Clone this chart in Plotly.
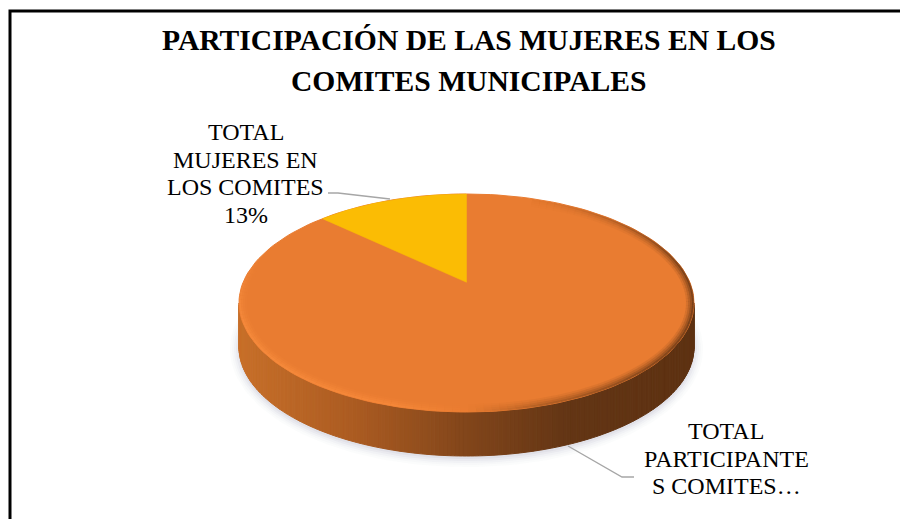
import numpy as np
import plotly.graph_objects as go

categories = ["TOTAL PARTICIPANTES COMITES", "TOTAL MUJERES EN LOS COMITES"]
values = [87, 13]
title_lines = ["PARTICIPACIÓN DE LAS MUJERES EN LOS", "COMITES MUNICIPALES"]
label_women = ["TOTAL", "MUJERES EN", "LOS COMITES", "13%"]
label_total = ["TOTAL", "PARTICIPANTE", "S COMITES…"]

CX, CY, RX, RY, DEPTH, E = 466.5, 303.0, 227.5, 109.0, 44.0, 0.19

fig = go.Figure()


def ell(phi, cy=CY, rx=RX, ry=RY, cx=CX):
    return cx + rx * np.sin(phi), cy - ry * np.cos(phi)


def add(x, y, fill=None, line=None, width=0, opacity=1.0):
    fig.add_trace(go.Scatter(
        x=list(x), y=list(y), mode="lines", hoverinfo="skip", showlegend=False,
        fill="toself" if fill else None, fillcolor=fill, opacity=opacity,
        line=dict(color=line or fill or "rgba(0,0,0,0)", width=width),
    ))


def mix(stops, t):
    xs = [s[0] for s in stops]
    c = [np.interp(t, xs, [s[1][i] for s in stops]) for i in range(3)]
    return "rgb(%d,%d,%d)" % tuple(c)


# soft shadow beneath the disc
full = np.linspace(0, 2 * np.pi, 181)
for grow, alpha in [(9, .03), (7, .04), (5, .05), (3, .07), (1, .09)]:
    x, y = ell(full, CY + DEPTH + 2, RX + grow, RY + grow)
    add(x, y, fill="#8f93a8", opacity=alpha)

# side wall, drawn as vertical strips with a horizontal shading
side = [(0, (200, 112, 42)), (.25, (172, 92, 34)), (.5, (130, 70, 27)), (.72, (100, 54, 21)), (1, (94, 50, 18))]
edges = np.linspace(np.pi / 2, 3 * np.pi / 2, 181)
for a, b in zip(edges[:-1], edges[1:]):
    ph = np.array([a, b])
    xt, yt = ell(ph)
    xb, yb = ell(ph, CY + DEPTH)
    t = (xt.mean() - (CX - RX)) / (2 * RX)
    add(np.r_[xt, xb[::-1], xt[0]], np.r_[yt, yb[::-1], yt[0]], fill=mix(side, t), width=1)

# top face
shares = np.array(values) / sum(values)
x, y = ell(full)
add(x, y, fill="#E97C31", line="#E97C31", width=1)

# rim: bright on the left, soft and dark on the right, fading out at both ends
rim = [(0, (248, 140, 62)), (.35, (247, 137, 58)), (.5, (236, 126, 50)), (.66, (176, 94, 36)), (1, (112, 60, 24))]
deg = np.linspace(15, 300, 143)
for width, inset, alpha in [(7, 4.5, .15), (5, 3.5, .25), (3, 2.5, .4), (2, 1, .8)]:
    for a, b in zip(deg[:-1], deg[1:]):
        xs, ys = ell(np.radians([a, b]), rx=RX - inset, ry=RY - inset)
        t = (xs.mean() - (CX - RX)) / (2 * RX)
        fade = np.clip((a - 15) / 55, 0, 1) * np.clip((300 - b) / 40, 0, 1)
        add(xs, ys, line=mix(rim, t), width=width, opacity=alpha * fade)

# women's slice on the top face; perspective moves the pie centre up the ellipse
theta = np.linspace(-2 * np.pi * shares[1], 0, 40)
u, v = np.sin(theta), np.cos(theta)
den = 1 + E * v
px = CX + RX * u * np.sqrt(1 - E ** 2) / den
py = CY - RY * (v + E) / den
apex_y = CY - RY * E
add(np.r_[CX, px, CX], np.r_[apex_y, py, apex_y], fill="#FBBC04", line="#FBBC04", width=0.5)

# leader lines
leader_x = [[328, 338, 390], [568, 622, 634]]
leader_y = [[193, 193, 199], [446, 477, 477]]
for lx, ly in zip(leader_x, leader_y):
    add(lx, ly, line="#A6A6A6", width=1.3)


def note(lines, x, y0, step, size, bold=False):
    for i, l in enumerate(lines):
        fig.add_annotation(
            x=x, y=y0 + i * step, xref="x", yref="y",
            text="<b>%s</b>" % l if bold else l, showarrow=False,
            xanchor="center", yanchor="middle",
            font=dict(family="Liberation Serif", size=size, color="#000000"),
        )


note(title_lines, 468.5, 40, 41, 29.6, bold=True)
note(label_women, 245.5, 132, 27.7, 24)
note(label_total, 726, 431, 27.5, 24)

# chart frame; the right and bottom edges fall outside the crop
fig.add_shape(type="rect", xref="x", yref="y", x0=10, x1=930, y0=11, y1=540,
              line=dict(color="#000000", width=3), fillcolor="rgba(0,0,0,0)")

# the page has an 8px body margin, so the plot covers 8..908 by 8..519
fig.update_layout(
    width=900, height=511, margin=dict(l=0, r=0, t=0, b=0),
    paper_bgcolor="#ffffff", plot_bgcolor="#ffffff", showlegend=False,
    xaxis=dict(range=[8, 908], visible=False, fixedrange=True),
    yaxis=dict(range=[519, 8], visible=False, fixedrange=True),
)
fig.write_html("out.html")
